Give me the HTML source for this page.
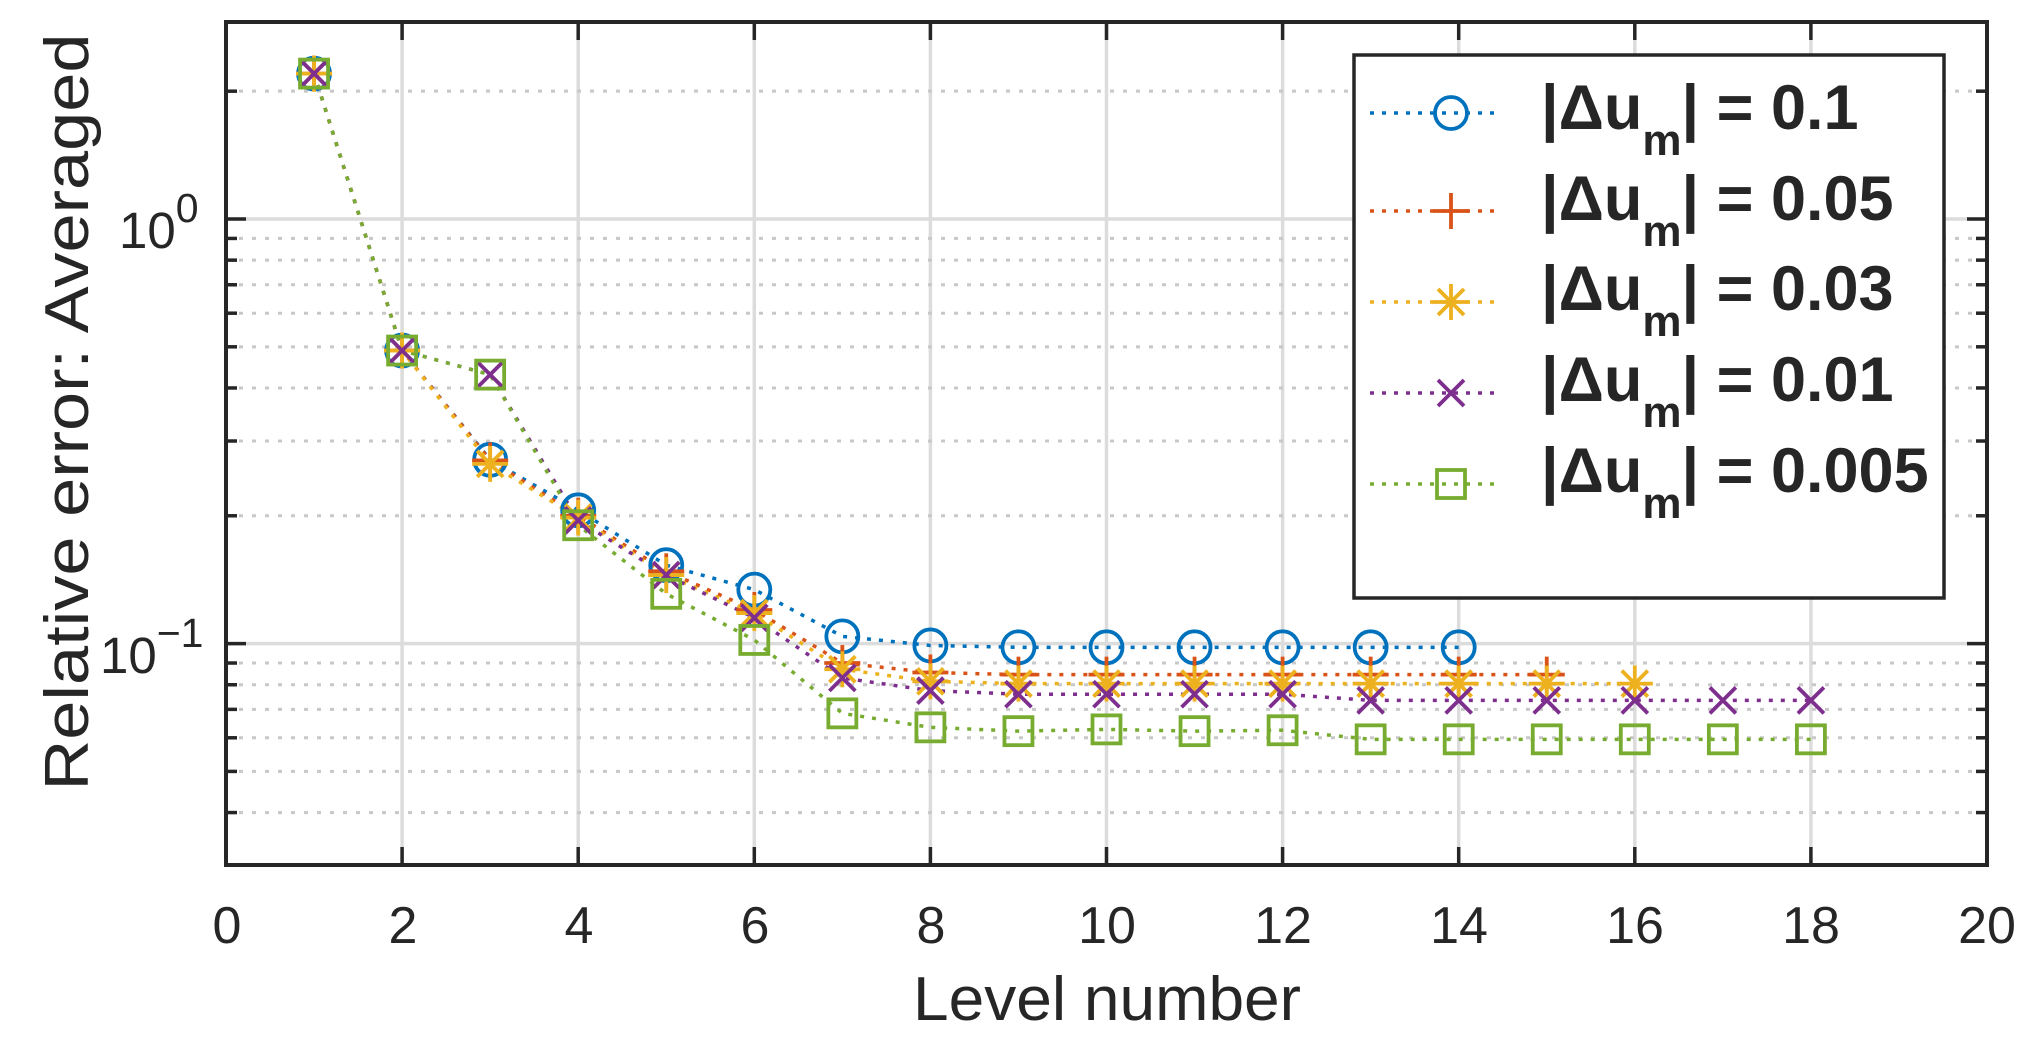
<!DOCTYPE html>
<html><head><meta charset="utf-8"><style>
html,body{margin:0;padding:0;background:#fff;}
svg{display:block;}
text{font-family:"Liberation Sans",sans-serif;fill:#262626;}
</style></head><body>
<svg id="s" width="2030" height="1046" viewBox="0 0 2030 1046" xmlns="http://www.w3.org/2000/svg">
<rect width="2030" height="1046" fill="#fff"/>
<g id="grid"></g>
<g id="series"></g>
<g id="axes"></g>
<g font-size="52" text-anchor="middle">
<text x="227" y="943">0</text><text x="403" y="943">2</text><text x="579" y="943">4</text><text x="755" y="943">6</text><text x="931" y="943">8</text><text x="1107" y="943">10</text><text x="1283" y="943">12</text><text x="1459" y="943">14</text><text x="1635" y="943">16</text><text x="1811" y="943">18</text><text x="1987" y="943">20</text>
</g>
<g font-size="51">
<text x="119" y="248">10<tspan font-size="41" dy="-26">0</tspan></text>
<text x="100" y="673">10<tspan font-size="41" dy="-26">−1</tspan></text>
</g>
<text x="1107" y="1020" font-size="62" text-anchor="middle" textLength="388" lengthAdjust="spacingAndGlyphs">Level number</text>
<text transform="translate(88,412) rotate(-90)" font-size="62" text-anchor="middle" textLength="757" lengthAdjust="spacingAndGlyphs">Relative error: Averaged</text>
<g id="legend">
<rect x="1354" y="55" width="590" height="543" fill="#fff" stroke="#262626" stroke-width="3.5"/>
<g font-size="63" font-weight="bold">
<text x="1541" y="129" fill="#000">|Δ<tspan>u</tspan><tspan font-size="44" dy="26">m</tspan><tspan dy="-26">| = 0.1</tspan></text>
<text x="1541" y="220" fill="#000">|Δ<tspan>u</tspan><tspan font-size="44" dy="26">m</tspan><tspan dy="-26">| = 0.05</tspan></text>
<text x="1541" y="310" fill="#000">|Δ<tspan>u</tspan><tspan font-size="44" dy="26">m</tspan><tspan dy="-26">| = 0.03</tspan></text>
<text x="1541" y="401" fill="#000">|Δ<tspan>u</tspan><tspan font-size="44" dy="26">m</tspan><tspan dy="-26">| = 0.01</tspan></text>
<text x="1541" y="492" fill="#000">|Δ<tspan>u</tspan><tspan font-size="44" dy="26">m</tspan><tspan dy="-26">| = 0.005</tspan></text>
</g>
</g>
</svg>
<script>
var NS="http://www.w3.org/2000/svg";
var L=226,R=1987,T=22,B=865;
function X(v){return L+v*88.05;}
function Y(v){return 219-Math.log10(v)*424.6;}
function el(p,n,a){var e=document.createElementNS(NS,n);for(var k in a)e.setAttribute(k,a[k]);p.appendChild(e);return e;}
var g=document.getElementById("grid"),ax=document.getElementById("axes"),se=document.getElementById("series"),lg=document.getElementById("legend");
for(var i=2;i<=18;i+=2)el(g,"line",{x1:X(i),x2:X(i),y1:T,y2:B,stroke:"#dcdcdc","stroke-width":3.5});
[1,0.1].forEach(function(v){el(g,"line",{x1:L,x2:R,y1:Y(v),y2:Y(v),stroke:"#dcdcdc","stroke-width":3.5});});
[0.04,0.05,0.06,0.07,0.08,0.09,0.2,0.3,0.4,0.5,0.6,0.7,0.8,0.9,2].forEach(function(v){
 el(g,"line",{x1:L,x2:R,y1:Y(v),y2:Y(v),stroke:"#c8c8c8","stroke-width":3,"stroke-dasharray":"4 9"});
 el(ax,"line",{x1:L,x2:L+11,y1:Y(v),y2:Y(v),stroke:"#262626","stroke-width":3.5});
 el(ax,"line",{x1:R,x2:R-11,y1:Y(v),y2:Y(v),stroke:"#262626","stroke-width":3.5});
});
[1,0.1].forEach(function(v){
 el(ax,"line",{x1:L,x2:L+20,y1:Y(v),y2:Y(v),stroke:"#262626","stroke-width":3.5});
 el(ax,"line",{x1:R,x2:R-20,y1:Y(v),y2:Y(v),stroke:"#262626","stroke-width":3.5});
});
for(var i=2;i<=18;i+=2){
 el(ax,"line",{x1:X(i),x2:X(i),y1:B,y2:B-18,stroke:"#262626","stroke-width":3.5});
 el(ax,"line",{x1:X(i),x2:X(i),y1:T,y2:T+18,stroke:"#262626","stroke-width":3.5});
}
el(ax,"rect",{x:L,y:T,width:R-L,height:B-T,fill:"none",stroke:"#262626","stroke-width":4});
var S=[
 {c:"#0072BD",m:"o",d:[2.2,0.49,0.271,0.206,0.153,0.134,0.104,0.099,0.098,0.098,0.098,0.098,0.098,0.098]},
 {c:"#D95319",m:"+",d:[2.2,0.49,0.27,0.2,0.148,0.12,0.09,0.0855,0.0845,0.0845,0.0845,0.0845,0.0845,0.0845,0.0845]},
 {c:"#EDB120",m:"*",d:[2.2,0.49,0.265,0.198,0.145,0.118,0.087,0.0815,0.0805,0.0805,0.0805,0.0805,0.0805,0.0805,0.0805,0.0805]},
 {c:"#7E2F8E",m:"x",d:[2.2,0.49,0.43,0.195,0.145,0.115,0.083,0.0775,0.076,0.076,0.076,0.076,0.0735,0.0735,0.0735,0.0735,0.0735,0.0735]},
 {c:"#77AC30",m:"s",d:[2.2,0.49,0.43,0.19,0.131,0.102,0.0685,0.0635,0.0622,0.0628,0.0622,0.0625,0.0595,0.0595,0.0595,0.0595,0.0595,0.0595]}
];
function mark(p,m,x,y,c){
 var a={stroke:c,"stroke-width":3.8,fill:"none"};
 if(m=="o")el(p,"circle",Object.assign({cx:x,cy:y,r:16},a));
 if(m=="+"){el(p,"line",Object.assign({x1:x-18,x2:x+18,y1:y,y2:y},a));el(p,"line",Object.assign({x1:x,x2:x,y1:y-18,y2:y+18},a));}
 if(m=="*"){el(p,"line",Object.assign({x1:x-18,x2:x+18,y1:y,y2:y},a));el(p,"line",Object.assign({x1:x,x2:x,y1:y-18,y2:y+18},a));
   el(p,"line",Object.assign({x1:x-13,x2:x+13,y1:y-13,y2:y+13},a));el(p,"line",Object.assign({x1:x-13,x2:x+13,y1:y+13,y2:y-13},a));}
 if(m=="x"){el(p,"line",Object.assign({x1:x-13,x2:x+13,y1:y-13,y2:y+13},a));el(p,"line",Object.assign({x1:x-13,x2:x+13,y1:y+13,y2:y-13},a));}
 if(m=="s")el(p,"rect",Object.assign({x:x-14,y:y-14,width:28,height:28},a));
}
S.forEach(function(s){
 var pts=s.d.map(function(v,i){return X(i+1)+","+Y(v);}).join(" ");
 el(se,"polyline",{points:pts,fill:"none",stroke:s.c,"stroke-width":3.5,"stroke-dasharray":"4 8"});
});
S.forEach(function(s){s.d.forEach(function(v,i){mark(se,s.m,X(i+1),Y(v),s.c);});});
var ly=[113,211,302,393,484];
S.forEach(function(s,i){
 el(lg,"line",{x1:1370,x2:1500,y1:ly[i],y2:ly[i],stroke:s.c,"stroke-width":3.5,"stroke-dasharray":"4 8"});
 mark(lg,s.m,1451,ly[i],s.c);
});
</script>
</body></html>
